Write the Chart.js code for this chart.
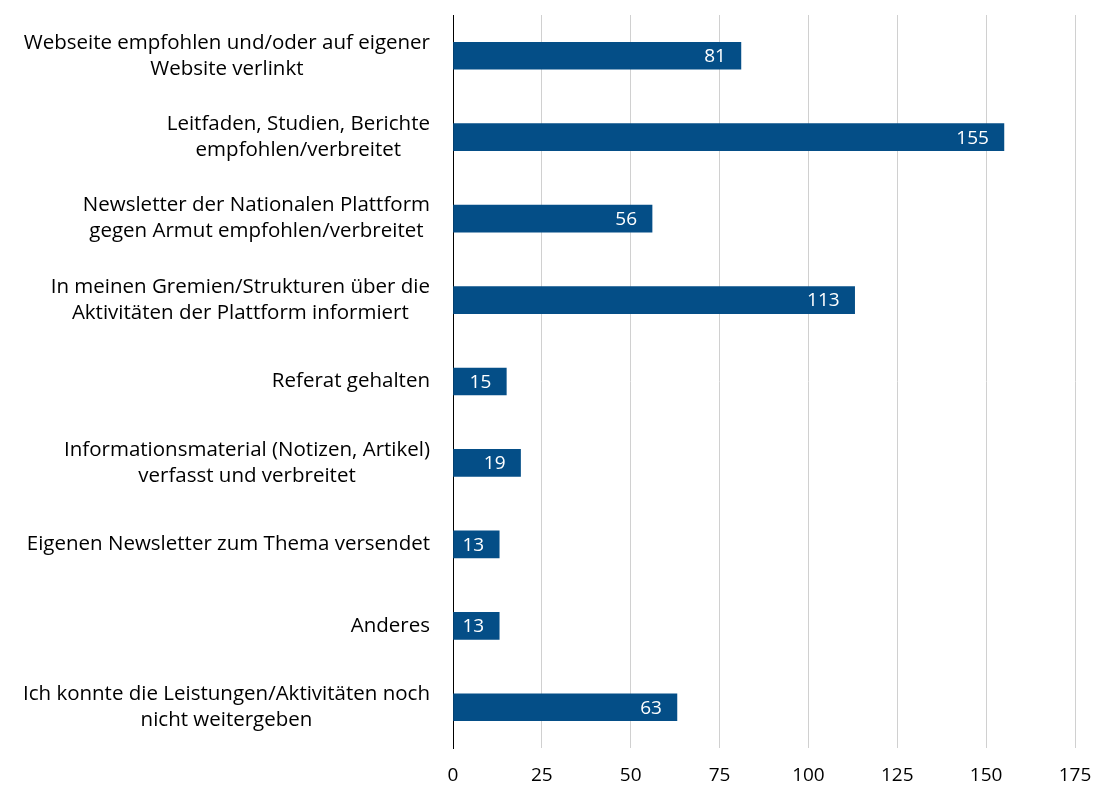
<!DOCTYPE html>
<html>
<head>
<meta charset="utf-8">
<script src="https://cdn.jsdelivr.net/npm/chart.js@4/dist/chart.umd.min.js"></script>
<style>
	html, body {margin: 0; padding: 0; background: #ffffff;}
	#wrap {width: 1095px; height: 787px; position: relative;}
</style>
</head>
<body>
<div id="wrap"><canvas id="chart"></canvas></div>
<script>
'use strict';

const categories = [
	['Webseite empfohlen und/oder auf eigener', 'Website verlinkt'],
	['Leitfaden, Studien, Berichte', 'empfohlen/verbreitet'],
	['Newsletter der Nationalen Plattform', 'gegen Armut empfohlen/verbreitet'],
	['In meinen Gremien/Strukturen über die', 'Aktivitäten der Plattform informiert'],
	['Referat gehalten'],
	['Informationsmaterial (Notizen, Artikel)', 'verfasst und verbreitet'],
	['Eigenen Newsletter zum Thema versendet'],
	['Anderes'],
	['Ich konnte die Leistungen/Aktivitäten noch', 'nicht weitergeben']
];
const counts = [81, 155, 56, 113, 15, 19, 13, 13, 63];
const xTicks = [0, 25, 50, 75, 100, 125, 150, 175];

const FONT = '"Open Sans", Lato, sans-serif';
const BAR_COLOUR = '#044e87';

//draws category labels: block right-aligned to axis, lines centred within block
const categoryLabels = {
	id: 'categoryLabels',
	afterDraw: (chart) => {
		const {ctx} = chart;
		const yScale = chart.scales.y;
		const rightEdge = yScale.right - 23;
		const lineHeight = 26;
		ctx.save();
		ctx.font = '20.5px ' + FONT;
		ctx.fillStyle = '#000000';
		ctx.textAlign = 'center';
		ctx.textBaseline = 'middle';
		categories.forEach((lines, idx) => {
			const yMid = yScale.getPixelForValue(idx);
			const blockWidth = Math.max(...lines.map(l => ctx.measureText(l).width));
			const x = rightEdge - blockWidth / 2;
			const top = yMid - (lines.length - 1) * lineHeight / 2;
			lines.forEach((line, n) => ctx.fillText(line, x, top + n * lineHeight));
		});
		ctx.restore();
	}
};

//white value labels inside the bar end
const valueLabels = {
	id: 'valueLabels',
	afterDatasetsDraw: (chart) => {
		const {ctx} = chart;
		const meta = chart.getDatasetMeta(0);
		ctx.save();
		ctx.font = '19px ' + FONT;
		ctx.fillStyle = '#ffffff';
		ctx.textAlign = 'right';
		ctx.textBaseline = 'middle';
		meta.data.forEach((bar, idx) => {
			ctx.fillText(String(counts[idx]), bar.x - 15, bar.y + 1);
		});
		ctx.restore();
	}
};

new Chart(document.getElementById('chart'), {
	type: 'bar',
	data: {
		labels: categories.map(l => l.join(' ')),
		datasets: [{
			data: counts,
			backgroundColor: BAR_COLOUR,
			borderWidth: 0,
			barThickness: 27
		}]
	},
	options: {
		indexAxis: 'y',
		responsive: true,
		maintainAspectRatio: false,
		animation: false,
		layout: {
			padding: {left: 0, right: 20, top: 15, bottom: 0}
		},
		plugins: {
			legend: {display: false},
			tooltip: {enabled: false}
		},
		scales: {
			x: {
				min: 0,
				max: 175,
				afterBuildTicks: (scale) => {
					scale.ticks = xTicks.map(v => ({value: v}));
				},
				afterFit: (scale) => {
					scale.height = 39;
					scale.paddingLeft = 0;
					scale.paddingRight = 0;
				},
				grid: {
					color: '#d0d0d0',
					lineWidth: 1,
					drawTicks: false
				},
				border: {display: false},
				ticks: {
					color: '#000000',
					padding: 16,
					font: {family: FONT, size: 19}
				}
			},
			y: {
				afterFit: (scale) => {
					scale.width = 453;
				},
				grid: {display: false, drawTicks: false},
				border: {color: '#000000', width: 1},
				ticks: {display: false}
			}
		}
	},
	plugins: [categoryLabels, valueLabels]
});
</script>
</body>
</html>
